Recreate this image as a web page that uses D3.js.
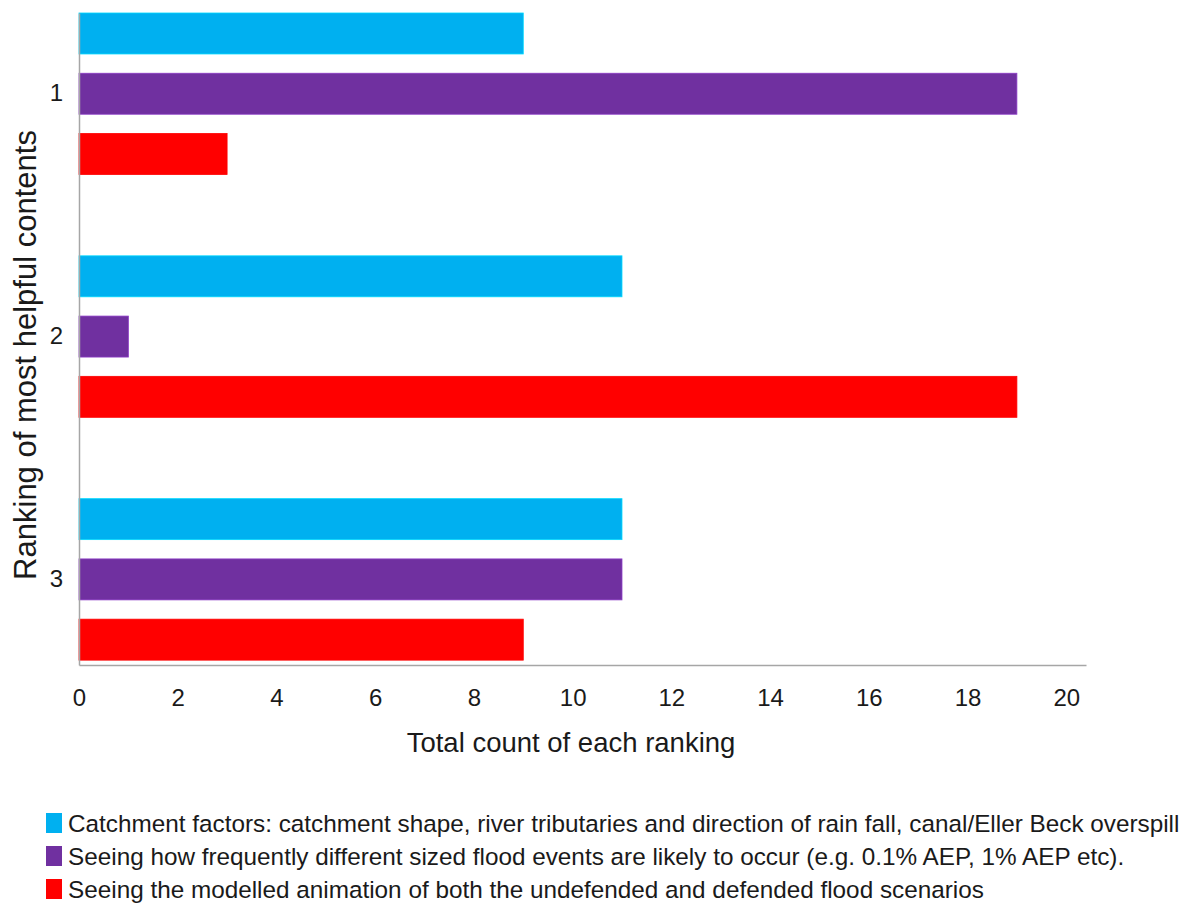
<!DOCTYPE html>
<html>
<head>
<meta charset="utf-8">
<script src="https://cdn.jsdelivr.net/npm/d3@7"></script>
<style>
  html, body { margin: 0; padding: 0; background: #fff; }
  svg { display: block; font-family: "Liberation Sans", Arial, sans-serif; }
</style>
</head>
<body>
<svg id="chart" width="1187" height="904"></svg>
<script>
// ---- data ----
const categories = ["1", "2", "3"];
const seriesNames = [
  "Catchment factors: catchment shape, river tributaries and direction of rain fall, canal/Eller Beck overspill",
  "Seeing how frequently different sized flood events are likely to occur (e.g. 0.1% AEP, 1% AEP etc).",
  "Seeing the modelled animation of both the undefended and defended flood scenarios"
];
const catchmentValues = [9, 11, 11];
const frequencyValues = [19, 1, 11];
const animationValues = [3, 19, 9];
const seriesColors = ["#00B0F0", "#7030A0", "#FF0000"];
const xTicks = [0, 2, 4, 6, 8, 10, 12, 14, 16, 18, 20];
const xTitle = "Total count of each ranking";
const yTitle = "Ranking of most helpful contents";

const seriesValues = [catchmentValues, frequencyValues, animationValues];
const rows = [];
categories.forEach((c, ci) => {
  seriesNames.forEach((s, si) => rows.push({ cat: c, series: si, value: seriesValues[si][ci] }));
});

// ---- layout ----
const svg = d3.select("#chart");
const x = d3.scaleLinear().domain([0, 20.4]).range([79, 1086]);
const y = d3.scaleBand().domain(categories).range([13, 665])
  .paddingInner(0.335).paddingOuter(0.01).align(0);
const ySub = d3.scaleBand().domain(d3.range(seriesNames.length))
  .range([0, y.bandwidth()]).paddingInner(0.32).paddingOuter(0);

// bars
svg.append("g").selectAll("rect").data(rows).join("rect")
  .attr("x", x(0))
  .attr("y", d => y(d.cat) + ySub(d.series))
  .attr("width", d => x(d.value) - x(0))
  .attr("height", ySub.bandwidth())
  .attr("fill", d => seriesColors[d.series])
  .attr("stroke", d => d3.color(seriesColors[d.series]).brighter(0.6))
  .attr("stroke-width", 0.8);

// x axis
const xAxis = svg.append("g")
  .attr("transform", `translate(0,${y.range()[1]})`)
  .call(d3.axisBottom(x).tickValues(xTicks).tickSize(0).tickPadding(24).tickFormat(d3.format("d")));
xAxis.select(".domain").attr("stroke", "#A6A6A6").attr("stroke-width", 1.5);
xAxis.selectAll("text").attr("font-size", 24).attr("fill", "#1a1a1a")
  .attr("font-family", "Liberation Sans, Arial, sans-serif");

// y axis
const yAxis = svg.append("g")
  .attr("transform", `translate(${x(0)},0)`)
  .call(d3.axisLeft(y).tickSize(0).tickPadding(16));
yAxis.select(".domain").attr("stroke", "#A6A6A6").attr("stroke-width", 1.5);
yAxis.selectAll("text").attr("font-size", 24).attr("fill", "#1a1a1a")
  .attr("font-family", "Liberation Sans, Arial, sans-serif");

// axis titles
svg.append("text")
  .attr("x", 571).attr("y", 752)
  .attr("text-anchor", "middle")
  .attr("font-size", 27.5).attr("fill", "#1a1a1a")
  .text(xTitle);

svg.append("text")
  .attr("transform", "translate(36,355) rotate(-90)")
  .attr("text-anchor", "middle")
  .attr("font-size", 31).attr("fill", "#1a1a1a")
  .text(yTitle);

// legend
const legend = svg.append("g").attr("transform", "translate(46,813)");
const item = legend.selectAll("g").data(seriesNames).join("g")
  .attr("transform", (d, i) => `translate(0,${i * 33})`);
item.append("rect").attr("width", 16).attr("height", 20)
  .attr("fill", (d, i) => seriesColors[i]);
item.append("text").attr("x", 22).attr("y", 18.5)
  .attr("font-size", 24.3).attr("fill", "#1a1a1a")
  .text(d => d);
</script>
</body>
</html>
